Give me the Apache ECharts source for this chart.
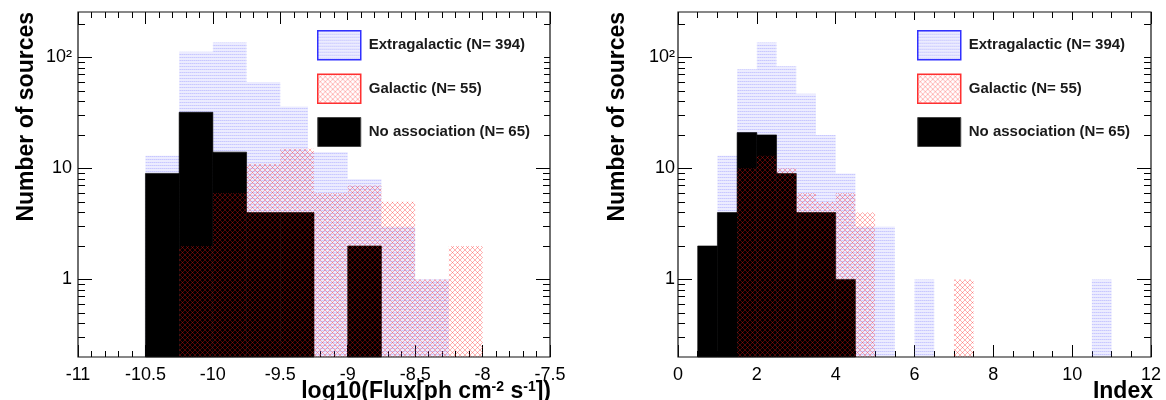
<!DOCTYPE html>
<html><head><meta charset="utf-8">
<script src="https://cdn.jsdelivr.net/npm/echarts@6/dist/echarts.min.js"></script>
<style>html,body{margin:0;padding:0;background:#fff}#c{width:1166px;height:400px}</style>
</head><body><div id="c"></div>
<script>
// ---------- data ----------
const fluxBinLow   = [-10.5, -10.25, -10, -9.75, -9.5, -9.25, -9, -8.75, -8.5, -8.25];
const fluxBinWidth = 0.25;
const fluxExtragalactic = [13, 112, 136, 60, 36, 25, 8, 3, 1, 0];
const fluxGalactic      = [0, 2, 6, 11, 15, 6, 7, 5, 1, 2];
const fluxNoAssociation = [9, 32, 14, 4, 4, 0, 2, 0, 0, 0];

const indexBinLow   = [0.5, 1, 1.5, 2, 2.5, 3, 3.5, 4, 4.5, 5, 5.5, 6, 6.5, 7, 7.5, 8, 8.5, 9, 9.5, 10, 10.5];
const indexBinWidth = 0.5;
const indexExtragalactic = [0, 13, 78, 136, 83, 47, 20, 9, 3, 3, 0, 1, 0, 0, 0, 0, 0, 0, 0, 0, 1];
const indexGalactic      = [0, 0, 10, 13, 10, 6, 5, 6, 4, 0, 0, 0, 0, 1, 0, 0, 0, 0, 0, 0, 0];
const indexNoAssociation = [2, 4, 21, 20, 9, 4, 4, 1, 0, 0, 0, 0, 0, 0, 0, 0, 0, 0, 0, 0, 0];

const legendNames = ['Extragalactic (N= 394)', 'Galactic (N= 55)', 'No association (N= 65)'];
const yMajorTicks = [1, 10, 100];
const yMinorTicks = [0.3, 0.4, 0.5, 0.6, 0.7, 0.8, 0.9, 2, 3, 4, 5, 6, 7, 8, 9, 20, 30, 40, 50, 60, 70, 80, 90, 200];
const yLabelText = {1: '1', 10: '10', 100: '10\u00B2'};
const Y_MIN = 0.2, Y_MAX = 256;

// ---------- patterns ----------
function bluePattern() {
  const c = document.createElement('canvas'); c.width = 2; c.height = 3;
  const g = c.getContext('2d');
  g.fillStyle = 'rgba(110,110,255,0.38)'; g.fillRect(0, 0, 1, 1);
  g.fillStyle = 'rgba(110,110,255,0.28)'; g.fillRect(1, 0, 1, 1);
  g.fillStyle = 'rgba(110,110,255,0.13)'; g.fillRect(0, 1, 2, 2);
  return {image: c, repeat: 'repeat'};
}
function redPattern() {
  const c = document.createElement('canvas'); c.width = 5; c.height = 5;
  const g = c.getContext('2d');
  g.strokeStyle = 'rgba(255,20,20,0.32)'; g.lineWidth = 1;
  g.beginPath(); g.moveTo(-1, -1); g.lineTo(6, 6); g.moveTo(-1, 6); g.lineTo(6, -1); g.stroke();
  return {image: c, repeat: 'repeat'};
}
const BLUE = bluePattern(), RED = redPattern(), BLACK = '#000';

const FONT = '"Liberation Sans", Arial, Helvetica, sans-serif';

function hist(name, lows, width, vals, g, fill, z) {
  const data = lows.map((x, i) => [x, x + width, vals[i]]).filter(d => d[2] > 0);
  const solid = typeof fill === 'string';
  return {
    type: 'custom', name, xAxisIndex: g * 2, yAxisIndex: g * 4, z,
    itemStyle: {color: fill},
    encode: {x: [0, 1], y: 2},
    data,
    renderItem(params, api) {
      const p0 = api.coord([api.value(0), api.value(2)]);
      const p1 = api.coord([api.value(1), Y_MIN]);
      return {type: 'rect', shape: {x: p0[0], y: p0[1], width: p1[0] - p0[0], height: p1[1] - p0[1]},
              style: solid ? {fill: fill, stroke: fill, lineWidth: 0.6} : {fill: fill}};
    }
  };
}

function xAxes(g, min, max, interval, split) {
  const base = {gridIndex: g, type: 'value', min, max, interval, splitLine: {show: false},
    axisLine: {show: false}};
  return [
    Object.assign({}, base, {position: 'bottom',
      axisTick: {show: true, inside: true, length: 12, lineStyle: {color: '#000', width: 1}},
      minorTick: {show: true, splitNumber: split, length: 6, lineStyle: {color: '#000', width: 1}},
      axisLabel: {show: true, margin: 9, color: '#000', fontSize: 18, fontFamily: FONT,
        formatter: v => String(v)}}),
    Object.assign({}, base, {position: 'top',
      axisTick: {show: true, inside: true, length: 12, lineStyle: {color: '#000', width: 1}},
      minorTick: {show: true, splitNumber: split, length: 6, lineStyle: {color: '#000', width: 1}},
      axisLabel: {show: false}})
  ];
}
function yAxes(g, labelMargin) {
  const base = {gridIndex: g, type: 'log', logBase: 10, min: Y_MIN, max: Y_MAX,
    splitLine: {show: false}, axisLine: {show: false}, minorTick: {show: false}};
  const major = (pos, lab) => Object.assign({}, base, {position: pos,
    axisTick: {show: true, inside: true, length: 14, customValues: yMajorTicks, lineStyle: {color: '#000', width: 1}},
    axisLabel: lab ? {show: true, customValues: yMajorTicks, margin: labelMargin, color: '#000', fontSize: 18,
      fontFamily: FONT, formatter: v => yLabelText[Math.round(v)] || ''} : {show: false}});
  const minor = pos => Object.assign({}, base, {position: pos,
    axisTick: {show: true, inside: true, length: 7, customValues: yMinorTicks, lineStyle: {color: '#000', width: 1}},
    axisLabel: {show: false}});
  return [major('left', true), minor('left'), major('right', false), minor('right')];
}

function mkLegend(left) {
  return {
    left, top: 20, orient: 'vertical', backgroundColor: '#fff',
    padding: [10, 14, 5, 9], itemWidth: 43, itemHeight: 29, itemGap: 13, icon: 'rect',
    selectedMode: false,
    textStyle: {fontFamily: FONT, fontWeight: 'bold', fontSize: 15, color: '#1a1a1a', padding: [0, 0, 0, 3]},
    data: [
      {name: legendNames[0], itemStyle: {borderColor: '#3030ff', borderWidth: 1.5}},
      {name: legendNames[1], itemStyle: {borderColor: '#ff3030', borderWidth: 1.5}},
      {name: legendNames[2], itemStyle: {borderColor: '#444', borderWidth: 1}}
    ]
  };
}

const titleStyle = {fontFamily: FONT, fontWeight: 'bold', fontSize: 23, fill: '#000'};

const option = {
  animation: false,
  backgroundColor: '#fff',
  grid: [
    {left: 78, right: 616, top: 12, bottom: 43, show: true, borderColor: '#111', borderWidth: 1.2, backgroundColor: 'transparent', z: 10},
    {left: 678, right: 15, top: 12, bottom: 43, show: true, borderColor: '#111', borderWidth: 1.2, backgroundColor: 'transparent', z: 10}
  ],
  xAxis: [].concat(xAxes(0, -11, -7.5, 0.5, 5), xAxes(1, 0, 12, 2, 4)),
  yAxis: [].concat(yAxes(0, 6), yAxes(1, 3)),
  legend: [mkLegend(308), mkLegend(908)],
  series: [
    hist(legendNames[0], fluxBinLow, fluxBinWidth, fluxExtragalactic, 0, BLUE, 2),
    hist(legendNames[2], fluxBinLow, fluxBinWidth, fluxNoAssociation, 0, BLACK, 3),
    hist(legendNames[1], fluxBinLow, fluxBinWidth, fluxGalactic, 0, RED, 4),
    hist(legendNames[0], indexBinLow, indexBinWidth, indexExtragalactic, 1, BLUE, 2),
    hist(legendNames[2], indexBinLow, indexBinWidth, indexNoAssociation, 1, BLACK, 3),
    hist(legendNames[1], indexBinLow, indexBinWidth, indexGalactic, 1, RED, 4)
  ],
  graphic: [
    {type: 'text', x: 27, y: 12, rotation: Math.PI / 2,
      style: Object.assign({text: 'Number of sources', align: 'right', verticalAlign: 'middle'}, titleStyle)},
    {type: 'text', x: 618, y: 12, rotation: Math.PI / 2,
      style: Object.assign({text: 'Number of sources', align: 'right', verticalAlign: 'middle'}, titleStyle)},
    {type: 'text', x: 551, y: 403,
      style: Object.assign({text: 'log10(Flux[ph cm{s|-2} s{s|-1}])', align: 'right', verticalAlign: 'bottom',
        rich: {s: {fontFamily: FONT, fontWeight: 'bold', fontSize: 14, verticalAlign: 'top', fill: '#000'}}}, titleStyle)},
    {type: 'text', x: 1153, y: 403,
      style: Object.assign({text: 'Index', align: 'right', verticalAlign: 'bottom'}, titleStyle)}
  ]
};

const chart = echarts.init(document.getElementById('c'), null, {renderer: 'canvas'});
chart.setOption(option);
</script>
</body></html>
